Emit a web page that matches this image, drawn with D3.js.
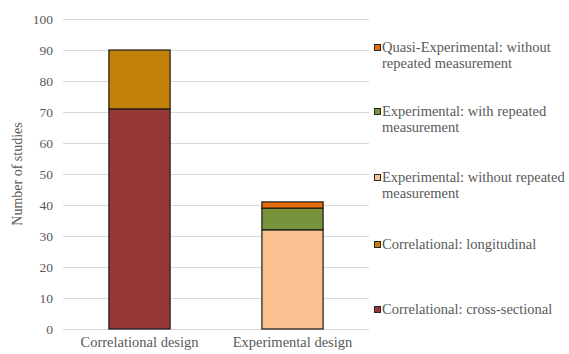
<!DOCTYPE html>
<html lang="en">
<head>
<meta charset="UTF-8">
<title>Number of studies by design</title>
<script src="https://d3js.org/d3.v7.min.js"></script>
<style>
	body { margin: 0; background: #fff; }
	svg { display: block; }
</style>
</head>
<body>
<svg width="569" height="354" font-family="Liberation Serif"></svg>
<script>
	// chart data
	var categories = ["Correlational design", "Experimental design"];
	var seriesNames = [
		"Correlational: cross-sectional",
		"Correlational: longitudinal",
		"Experimental: without repeated measurement",
		"Experimental: with repeated measurement",
		"Quasi-Experimental: without repeated measurement"
	];
	var crossSectional = [71, 0];
	var longitudinal = [19, 0];
	var expWithout = [0, 32];
	var expWith = [0, 7];
	var quasiWithout = [0, 2];
	var yTicks = [0, 10, 20, 30, 40, 50, 60, 70, 80, 90, 100];
	// legend labels split over lines, top to bottom
	var legendLines = [
		["Quasi-Experimental: without", "repeated measurement"],
		["Experimental: with repeated", "measurement"],
		["Experimental: without repeated", "measurement"],
		["Correlational: longitudinal"],
		["Correlational: cross-sectional"]
	];

	var colors = ["#953735", "#C28209", "#FAC090", "#77933C", "#E46C0A"];
	var FONT = "Liberation Serif";

	var svg = d3.select("svg");
	var plotLeft = 63, plotRight = 369, plotTop = 19, plotBottom = 329;

	var x = d3.scaleBand().domain(categories).range([plotLeft, plotRight]).paddingInner(0.6).paddingOuter(0.3);
	var y = d3.scaleLinear().domain([0, 100]).range([plotBottom, plotTop]);

	// gridlines
	svg.append("g")
		.selectAll("line")
		.data(yTicks)
		.enter()
		.append("line")
		.attr("x1", plotLeft)
		.attr("x2", plotRight)
		.attr("y1", function (d) { return Math.round(y(d)) + 0.5; })
		.attr("y2", function (d) { return Math.round(y(d)) + 0.5; })
		.attr("stroke", "#d9d9d9")
		.attr("stroke-width", 1);

	// y tick labels
	var yAxis = d3.axisLeft(y).tickValues(yTicks).tickSize(0).tickPadding(10);
	var gy = svg.append("g").attr("transform", "translate(" + plotLeft + ",0)").call(yAxis);
	gy.attr("font-family", FONT).attr("font-size", 13);
	gy.select(".domain").remove();
	gy.selectAll("text")
		.attr("font-family", FONT)
		.attr("font-size", 13.5)
		.attr("fill", "#595959");

	// x labels
	var xAxis = d3.axisBottom(x).tickSize(0).tickPadding(8);
	var gx = svg.append("g").attr("transform", "translate(0," + plotBottom + ")").call(xAxis);
	gx.attr("font-family", FONT).attr("font-size", 13);
	gx.select(".domain").remove();
	gx.selectAll("text")
		.attr("font-family", FONT)
		.attr("font-size", 14.5)
		.attr("fill", "#595959");

	// y axis title
	svg.append("text")
		.attr("transform", "translate(22," + ((plotTop + plotBottom) / 2) + ") rotate(-90)")
		.attr("text-anchor", "middle")
		.attr("font-family", FONT)
		.attr("font-size", 14)
		.attr("fill", "#595959")
		.text("Number of studies");

	// stacked bars
	var table = categories.map(function (c, i) {
		return {
			cat: c,
			s0: crossSectional[i], s1: longitudinal[i], s2: expWithout[i], s3: expWith[i], s4: quasiWithout[i]
		};
	});
	var stack = d3.stack().keys(["s0", "s1", "s2", "s3", "s4"]);
	var layers = stack(table);

	svg.append("g")
		.selectAll("g")
		.data(layers)
		.enter()
		.append("g")
		.attr("fill", function (d, i) { return colors[i]; })
		.selectAll("rect")
		.data(function (d) { return d.filter(function (p) { return p[1] - p[0] > 0; }); })
		.enter()
		.append("rect")
		.attr("x", function (d) { return x(d.data.cat); })
		.attr("width", x.bandwidth())
		.attr("y", function (d) { return y(d[1]); })
		.attr("height", function (d) { return y(d[0]) - y(d[1]); })
		.attr("stroke", "#1a1a1a")
		.attr("stroke-width", 1.2);

	// legend
	var legendY = [48, 112, 178, 245, 310];
	var legendColor = [colors[4], colors[3], colors[2], colors[1], colors[0]];
	var lg = svg.append("g");
	legendLines.forEach(function (lines, i) {
		var ly = legendY[i];
		lg.append("rect")
			.attr("x", 374.5)
			.attr("y", ly - 3.5)
			.attr("width", 6)
			.attr("height", 6)
			.attr("fill", legendColor[i])
			.attr("stroke", "#262626")
			.attr("stroke-width", 1);
		var t = lg.append("text")
			.attr("x", 382)
			.attr("y", ly + 4)
			.attr("font-family", FONT)
			.attr("font-size", 14.5)
			.attr("fill", "#595959");
		lines.forEach(function (line, j) {
			t.append("tspan")
				.attr("x", 382)
				.attr("dy", j === 0 ? 0 : 16)
				.text(line);
		});
	});
</script>
</body>
</html>
